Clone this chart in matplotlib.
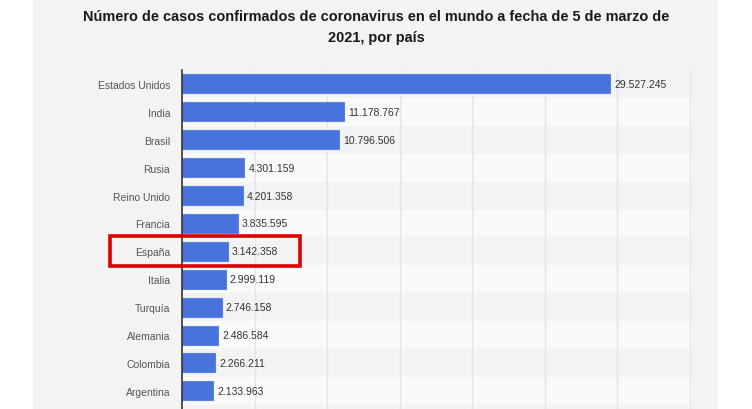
import matplotlib
matplotlib.use("Agg")
import matplotlib.pyplot as plt
from matplotlib.patches import Rectangle

countries = ["Estados Unidos", "India", "Brasil", "Rusia", "Reino Unido", "Francia",
             "España", "Italia", "Turquía", "Alemania", "Colombia", "Argentina"]
cases = [29527245, 11178767, 10796506, 4301159, 4201358, 3835595,
         3142358, 2999119, 2746158, 2486584, 2266211, 2133963]
labels = ["29.527.245", "11.178.767", "10.796.506", "4.301.159", "4.201.358", "3.835.595",
          "3.142.358", "2.999.119", "2.746.158", "2.486.584", "2.266.211", "2.133.963"]
highlight = "España"
title = "Número de casos confirmados de coronavirus en el mundo a fecha de 5 de marzo de\n2021, por país"

W, H = 752, 410
fig = plt.figure(figsize=(W / 100, H / 100), dpi=100)
fig.patch.set_facecolor("white")
fig.patches.append(Rectangle((33 / W, 0), (718 - 33) / W, 1, transform=fig.transFigure,
                             facecolor="#f3f3f3", edgecolor="none", zorder=-10))

left, right, top, bottom = 182, 692, 71, 410
ax = fig.add_axes([left / W, 1 - bottom / H, (right - left) / W, (bottom - top) / H])
ax.set_facecolor("#f3f3f3")
n = len(countries)
ypos = list(range(n))
ax.set_xlim(0, 35.15e6)
ax.set_ylim(11.65, -0.5)

for i in ypos:
    if i % 2 == 1:
        ax.axhspan(i - 0.5, i + 0.5, color="#fafafa", zorder=0, lw=0)

for x in range(5, 36, 5):
    ax.axvline(x * 1e6, color="#e4e4e4", lw=1, zorder=1)

ax.barh(ypos, cases, height=0.68, color="#4773da", edgecolor="#5a83e0", lw=0.8, zorder=3)
for i, (v, lab) in enumerate(zip(cases, labels)):
    ax.text(v + 0.28e6, i, lab, va="center", ha="left", fontsize=7.5,
            family="Liberation Sans", color="#333333", zorder=4)

ax.set_yticks(ypos)
ax.set_yticklabels(countries, fontsize=7.5, family="Liberation Sans", color="#555555")
ax.tick_params(axis="y", length=0, pad=8.6)
ax.set_xticks([])
for s in ["top", "right", "bottom"]:
    ax.spines[s].set_visible(False)
ax.spines["left"].set_color("#333333")
ax.spines["left"].set_linewidth(1.2)
ax.spines["left"].set_zorder(5)

hi = countries.index(highlight)
px = 35.15e6 / (right - left)
rect = Rectangle(((110 - left) * px, hi - 0.54), (300 - 110) * px, 1.08,
                 fill=False, edgecolor="#dd0000", lw=2.6, clip_on=False, zorder=6)
ax.add_patch(rect)

fig.text(0.5, 1 - 27.5 / H, title, ha="center", va="center", fontsize=10.45,
         fontweight="bold", family="Liberation Sans", color="#1a1a1a", linespacing=1.65)

fig.savefig("out.png", dpi=100, facecolor=fig.get_facecolor())
